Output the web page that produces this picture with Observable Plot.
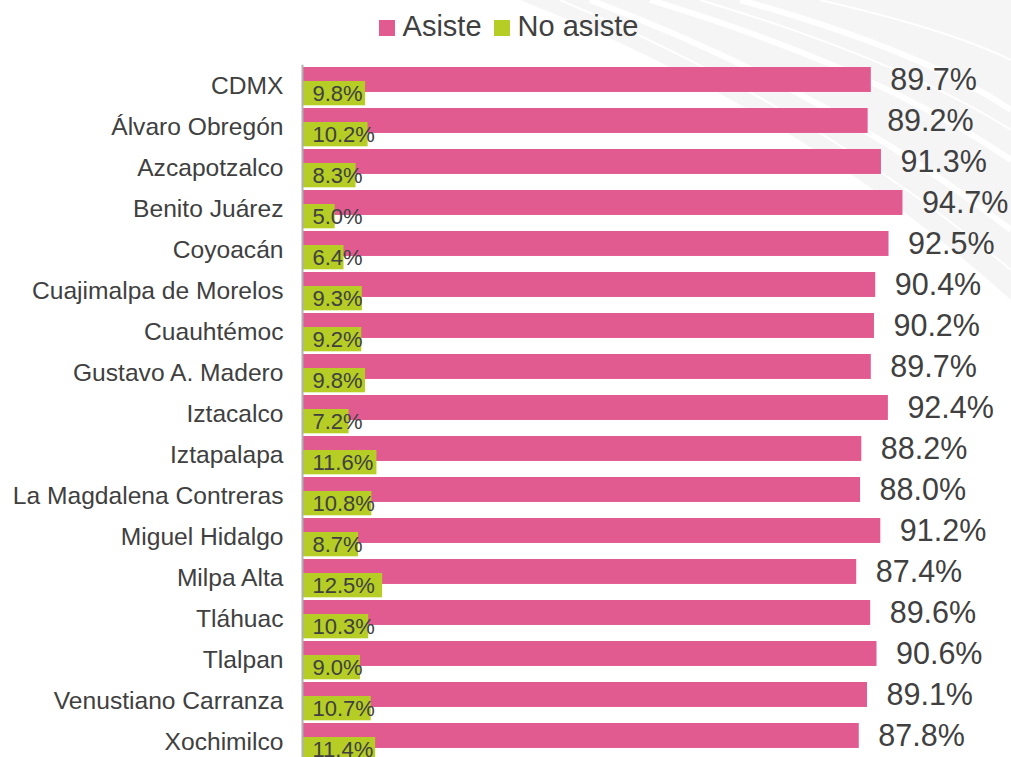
<!DOCTYPE html>
<html>
<head>
<meta charset="utf-8">
<script src="https://cdn.jsdelivr.net/npm/d3@7"></script>
<script src="https://cdn.jsdelivr.net/npm/@observablehq/plot@0.6"></script>
<style>
  html, body { margin: 0; padding: 0; background: #fff; overflow: hidden; width: 1011px; height: 757px; }
  body { position: relative; font-family: "Liberation Sans", Arial, Helvetica, sans-serif; color: #404040; }
  #deco { position: absolute; left: 0; top: 0; z-index: 0; }
  #legend { position: relative; z-index: 1; height: 52px; display: flex; justify-content: center; align-items: flex-start; padding-left: 6px; box-sizing: border-box; }
  .item { display: flex; align-items: center; font-size: 29px; margin-top: 10px; line-height: 32px; }
  .sw { width: 16px; height: 16px; margin-right: 8px; margin-top: 4px; }
  .item + .item { margin-left: 12px; }
  #chart { position: relative; z-index: 1; }
</style>
</head>
<body>
<svg id="deco" width="1011" height="757">
  <path d="M 520 0 Q 800 110 1011 300 L 1011 0 Z" fill="#f5f5f5"/>
  <g fill="none" stroke="#ffffff" stroke-width="6">
    <path d="M 590 0 Q 830 90 1011 230"/>
    <path d="M 650 0 Q 880 70 1011 160"/>
    <path d="M 740 0 Q 920 50 1011 110"/>
  </g>
  <g fill="none" stroke="#ffffff" stroke-width="2">
    <path d="M 560 0 Q 820 110 1011 270"/>
    <path d="M 700 0 Q 900 60 1011 130"/>
    <path d="M 820 0 Q 950 30 1011 60"/>
  </g>
</svg>
<div id="legend"></div>
<div id="chart"></div>
<script>
const alcaldias = ["CDMX", "Álvaro Obregón", "Azcapotzalco", "Benito Juárez", "Coyoacán", "Cuajimalpa de Morelos", "Cuauhtémoc", "Gustavo A. Madero", "Iztacalco", "Iztapalapa", "La Magdalena Contreras", "Miguel Hidalgo", "Milpa Alta", "Tláhuac", "Tlalpan", "Venustiano Carranza", "Xochimilco"];
const asiste = [89.7, 89.2, 91.3, 94.7, 92.5, 90.4, 90.2, 89.7, 92.4, 88.2, 88.0, 91.2, 87.4, 89.6, 90.6, 89.1, 87.8];
const noAsiste = [9.8, 10.2, 8.3, 5.0, 6.4, 9.3, 9.2, 9.8, 7.2, 11.6, 10.8, 8.7, 12.5, 10.3, 9.0, 10.7, 11.4];
const series = ["Asiste", "No asiste"];
const colors = ["#e15b91", "#b5cd25"];

const rows = alcaldias.map((name, i) => ({name, asiste: asiste[i], noAsiste: noAsiste[i]}));
const fmt = v => v.toFixed(1) + "%";

// legend
const legend = document.getElementById("legend");
series.forEach((s, i) => {
  const it = document.createElement("div");
  it.className = "item";
  const sw = document.createElement("div");
  sw.className = "sw";
  sw.style.background = colors[i];
  const tx = document.createElement("span");
  tx.textContent = s;
  it.appendChild(sw); it.appendChild(tx);
  legend.appendChild(it);
});

const band = 41.04;
const chart = Plot.plot({
  width: 1011,
  height: 720,
  marginLeft: 303,
  marginRight: 75,
  marginTop: 12.7,
  marginBottom: 9.6,
  style: {fontFamily: "'Liberation Sans', Arial, Helvetica, sans-serif", color: "#404040", background: "transparent", overflow: "visible"},
  x: {domain: [0, 100], axis: null},
  y: {domain: alcaldias, padding: 0, label: null},
  marks: [
    Plot.barX(rows, {y: "name", x: "asiste", fill: colors[0], insetTop: 2, insetBottom: band - 27}),
    Plot.barX(rows, {y: "name", x: "noAsiste", fill: colors[1], insetTop: 16, insetBottom: 0.7}),
    Plot.ruleX([0], {stroke: "#b0b0b0", strokeWidth: 2, dx: -1}),
    Plot.text(rows, {y: "name", x: "asiste", text: d => fmt(d.asiste), textAnchor: "start", dx: 19, dy: -6, fontSize: 30.5, fill: "#404040"}),
    Plot.text(rows, {y: "name", x: 0, text: d => fmt(d.noAsiste), textAnchor: "start", dx: 9, dy: 7.6, fontSize: 22, fill: "#404040"}),
    Plot.axisY({tickSize: 0, tickPadding: 20, fontSize: 24.6, fill: "#404040", label: null})
  ]
});
document.getElementById("chart").appendChild(chart);
</script>
</body>
</html>
